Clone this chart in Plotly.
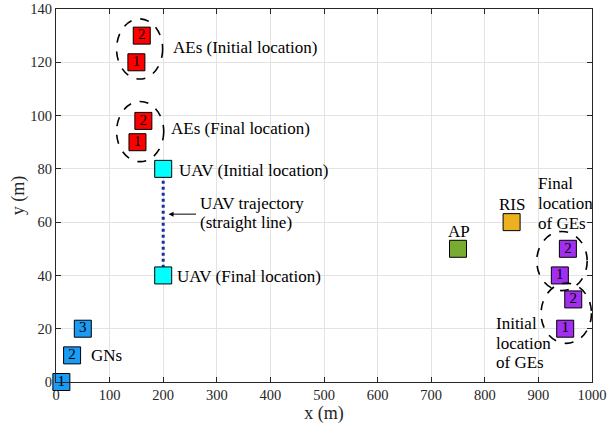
import plotly.graph_objects as go

# Node positions (m)
gn_x = [10, 30, 50]
gn_y = [0, 10, 20]
gn_ids = ["1", "2", "3"]

ae_init_x = [150, 160]
ae_init_y = [120, 130]
ae_final_x = [152, 163]
ae_final_y = [90, 98]
ae_ids = ["1", "2"]

uav_x = [200, 200]
uav_y = [80, 40]

ap_xy = (750, 50)
ris_xy = (850, 60)

ge_init_x = [950, 965]
ge_init_y = [20, 31]
ge_final_x = [940, 955]
ge_final_y = [40, 50]
ge_ids = ["1", "2"]

# Dashed groupings: (x centre, y centre, x radius, y radius)
groups = [
    (156, 125, 43, 11.3),
    (157, 94, 44, 11.3),
    (944, 45.4, 47, 11.1),
    (952, 25.8, 47, 11.3),
]

FONT = "Liberation Serif"
FS = 14.5      # tick labels
FS_TITLE = 18  # axis titles
FS_TXT = 17    # annotations
FS_ID = 15     # node indices
MS = 17

fig = go.Figure()

# UAV trajectory
fig.add_trace(go.Scatter(x=uav_x, y=uav_y, mode="lines",
                         line=dict(color="#1f2f9a", width=3, dash="dot"),
                         showlegend=False, hoverinfo="skip"))


def squares(xs, ys, color, labels=None):
    fig.add_trace(go.Scatter(
        x=xs, y=ys, mode="markers+text" if labels else "markers",
        text=labels, textposition="middle center",
        textfont=dict(family=FONT, size=FS_ID, color="black"),
        marker=dict(symbol="square", size=MS, color=color,
                    line=dict(color="black", width=1)),
        cliponaxis=False, showlegend=False))


squares(gn_x, gn_y, "#1a9cf5", gn_ids)
squares(ae_init_x, ae_init_y, "#ff0000", ae_ids)
squares(ae_final_x, ae_final_y, "#ff0000", ae_ids)
squares(uav_x, uav_y, "#00ffff")
squares([ap_xy[0]], [ap_xy[1]], "#77ac30")
squares([ris_xy[0]], [ris_xy[1]], "#edb120")
squares(ge_init_x, ge_init_y, "#a22ef0", ge_ids)
squares(ge_final_x, ge_final_y, "#a22ef0", ge_ids)

for cx, cy, rx, ry in groups:
    fig.add_shape(type="circle", xref="x", yref="y",
                  x0=cx - rx, x1=cx + rx, y0=cy - ry, y1=cy + ry,
                  line=dict(color="black", width=1.6, dash="dash"))


def label(x, y, text, xanchor="left"):
    fig.add_annotation(x=x, y=y, text=text, showarrow=False,
                       xanchor=xanchor, yanchor="middle", align="left",
                       font=dict(family=FONT, size=FS_TXT, color="black"))


def block(x, y_lines, lines):
    # multi-line label, one annotation per line for tight line spacing
    for yy, t in zip(y_lines, lines):
        label(x, yy, t)


label(214, 125.5, "AEs (Initial location)")
label(210, 95, "AEs (Final location)")
label(226, 79.5, "UAV (Initial location)")
label(222, 39.5, "UAV (Final location)")
block(265, [67, 60], ["UAV trajectory", "(straight line)"])
label(62, 10, "GNs")
label(752, 56.5, "AP", xanchor="center")
label(850, 66.5, "RIS", xanchor="center")
block(895, [74.5, 67, 59.5], ["Final", "location", "of GEs"])
block(817, [22, 14.6, 7.3], ["Initial", "location", "of GEs"])

fig.add_annotation(x=210, y=63, ax=264, ay=63, xref="x", yref="y",
                   axref="x", ayref="y", text="", showarrow=True,
                   arrowhead=2, arrowsize=1, arrowwidth=1, arrowcolor="black")

axis_common = dict(showgrid=True, gridcolor="#e3e3e3", gridwidth=1,
                   showline=True, linecolor="#262626", linewidth=1,
                   mirror="ticks", ticks="inside", ticklen=5,
                   tickcolor="#262626", zeroline=False, automargin=False,
                   tickfont=dict(family=FONT, size=FS, color="#262626"))

fig.update_xaxes(range=[0, 1000], dtick=100,
                 title=dict(text="x (m)", font=dict(family=FONT, size=FS_TITLE, color="#262626"),
                            standoff=3),
                 **axis_common)
fig.update_yaxes(range=[0, 140], dtick=20,
                 title=dict(text="y (m)", font=dict(family=FONT, size=FS_TITLE, color="#262626"),
                            standoff=1),
                 **axis_common)

fig.update_layout(width=609, height=437,
                  margin=dict(l=56, r=17, t=9, b=55, autoexpand=False),
                  plot_bgcolor="white", paper_bgcolor="white",
                  showlegend=False)

fig.write_html("out.html")
